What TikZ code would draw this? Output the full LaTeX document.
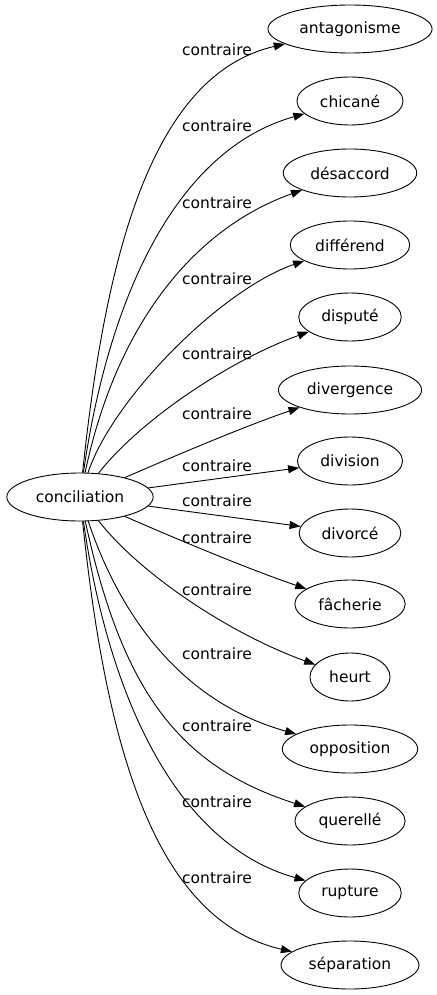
\documentclass[tikz,border=0pt]{standalone}
\usepackage{fontspec}
\setmainfont{DejaVu Sans}
\usetikzlibrary{arrows.meta,shapes.geometric}

\begin{document}
\begin{tikzpicture}[x=1pt,y=-1pt,->,>={Triangle[length=11pt,width=8pt]},line width=0.9pt,
	wordnode/.style={ellipse,draw,line width=0.9pt,inner xsep=7.5pt,inner ysep=2pt,minimum height=48pt,font=\fontsize{15.5}{18}\selectfont},
	relnode/.style={inner sep=0pt,font=\fontsize{15.5}{18}\selectfont}]
	\useasboundingbox (0,0) rectangle (436,995);

	\node [wordnode] (0) at (80, 497) {conciliation};
	\node [wordnode] (1) at (350, 29) {antagonisme};
	\node [wordnode] (2) at (350, 101) {chicané};
	\node [wordnode] (3) at (350, 173) {désaccord};
	\node [wordnode] (4) at (350, 245) {différend};
	\node [wordnode] (5) at (350, 317) {disputé};
	\node [wordnode] (6) at (350, 390) {divergence};
	\node [wordnode] (7) at (350, 461) {division};
	\node [wordnode] (8) at (350, 533) {divorcé};
	\node [wordnode] (9) at (350, 604) {fâcherie};
	\node [wordnode] (10) at (350, 677) {heurt};
	\node [wordnode] (11) at (350, 749) {opposition};
	\node [wordnode] (12) at (350, 821) {querellé};
	\node [wordnode] (13) at (350, 893) {rupture};
	\node [wordnode] (14) at (350, 965) {séparation};

	\node [relnode] (1l) at (217, 50) {contraire};
	\node [relnode] (2l) at (217, 126) {contraire};
	\node [relnode] (3l) at (217, 203) {contraire};
	\node [relnode] (4l) at (217, 279) {contraire};
	\node [relnode] (5l) at (217, 354) {contraire};
	\node [relnode] (6l) at (217, 414) {contraire};
	\node [relnode] (7l) at (217, 466) {contraire};
	\node [relnode] (8l) at (217, 501) {contraire};
	\node [relnode] (9l) at (217, 538) {contraire};
	\node [relnode] (10l) at (217, 590) {contraire};
	\node [relnode] (11l) at (217, 654) {contraire};
	\node [relnode] (12l) at (217, 726) {contraire};
	\node [relnode] (13l) at (217, 802) {contraire};
	\node [relnode] (14l) at (217, 878) {contraire};

	\draw (0) .. controls (105, 260) and (150, 75) .. (1);
	\draw (0) .. controls (108, 300) and (175, 150) .. (2);
	\draw (0) .. controls (115, 330) and (190, 230) .. (3);
	\draw (0) .. controls (112, 400) and (220, 290) .. (4);
	\draw (0) .. controls (140, 420) and (230, 360) .. (5);
	\draw (0) .. controls (170, 458) and (240, 428) .. (6);
	\draw (0) to (7);
	\draw (0) to (8);
	\draw (0) .. controls (170, 536) and (240, 566) .. (9);
	\draw (0) .. controls (140, 574) and (230, 634) .. (10);
	\draw (0) .. controls (125, 630) and (192, 705) .. (11);
	\draw (0) .. controls (122, 690) and (178, 766) .. (12);
	\draw (0) .. controls (108, 694) and (175, 844) .. (13);
	\draw (0) .. controls (105, 734) and (150, 919) .. (14);
\end{tikzpicture}
\end{document}
